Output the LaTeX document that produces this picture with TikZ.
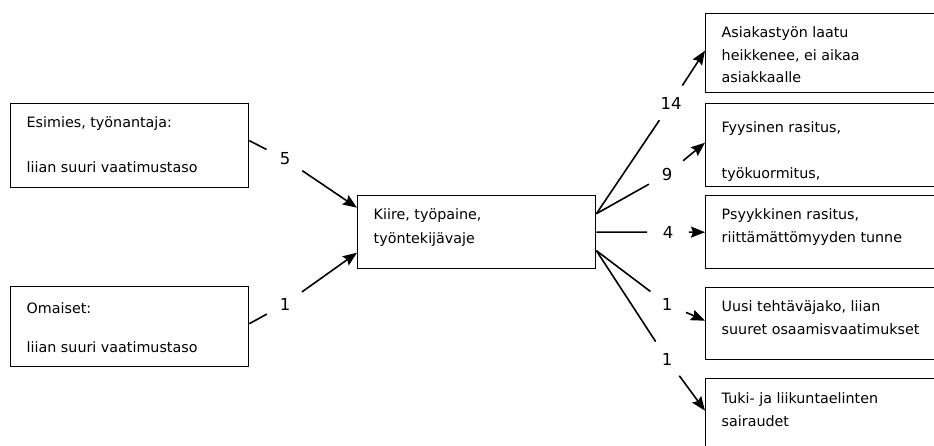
\documentclass[tikz,border=0pt]{standalone}
\usepackage{fontspec}
\setmainfont{DejaVu Sans}
\usetikzlibrary{arrows.meta}
\newcommand{\sisalto}[4][24pt]{\parbox[t][#3][t]{#2}{\leftskip=16pt\rule{0pt}{#1}#4}}

\begin{document}
\begin{tikzpicture}[x=1pt,y=-1pt,>={Stealth[length=14pt,width=11pt,inset=2pt]},line width=1.6pt,
  laatikko/.style={draw,line width=1.4pt,anchor=north west,inner sep=0pt,font=\fontsize{14.3}{22.5}\selectfont},
  luku/.style={circle,minimum size=40pt,inner sep=0pt,font=\fontsize{16.5}{16.5}\selectfont}]
\useasboundingbox (0,0) rectangle (934,446);
\clip (0,0) rectangle (934,446);
\node[laatikko] (esimies) at (10,103) {\sisalto{238pt}{84pt}{Esimies, työnantaja:\\[22.5pt]liian suuri vaatimustaso}};
\node[laatikko] (omaiset) at (10,286) {\sisalto[27pt]{238pt}{80pt}{Omaiset:\\[16.5pt]liian suuri vaatimustaso}};
\node[laatikko] (kiire) at (357,195) {\sisalto{238pt}{73pt}{Kiire, työpaine,\\[1.5pt]työntekijävaje}};
\node[laatikko] (laatu) at (705,13) {\sisalto{260pt}{79pt}{Asiakastyön laatu\\heikkenee, ei aikaa\\asiakkaalle}};
\node[laatikko] (fyys) at (705,103) {\sisalto[29pt]{260pt}{83pt}{Fyysinen rasitus,\\[23.5pt]työkuormitus,}};
\node[laatikko] (psyyk) at (705,195) {\sisalto{260pt}{73pt}{Psyykkinen rasitus,\\riittämättömyyden tunne}};
\node[laatikko] (uusi) at (705,287) {\sisalto{260pt}{72pt}{Uusi tehtäväjako, liian\\suuret osaamisvaatimukset}};
\node[laatikko] (tuki) at (705,378) {\sisalto[25pt]{260pt}{80pt}{Tuki- ja liikuntaelinten\\sairaudet}};

\node[luku] (l5) at (285,159) {5};
\node[luku] (l1a) at (285,304) {1};
\node[luku] (l14) at (671,103) {14};
\node[luku] (l9) at (667,174) {9};
\node[luku] (l4) at (668,232) {4};
\node[luku] (l1b) at (667,304) {1};
\node[luku] (l1c) at (667,359) {1};

\draw ([yshift=5pt]esimies.east) -- (l5);
\draw[->] (l5) -- ([yshift=24.5pt]kiire.west);
\draw ([yshift=3pt]omaiset.east) -- (l1a);
\draw[->] (l1a) -- ([yshift=-20.5pt]kiire.west);

\draw ([yshift=18.5pt]kiire.east) -- (l14);
\draw[->] (l14) -- ([yshift=2.5pt]laatu.west);
\draw ([yshift=18.5pt]kiire.east) -- (l9);
\draw[->] (l9) -- ([yshift=2.5pt]fyys.west);
\draw (kiire.east) -- (l4);
\draw[->] (l4) -- (psyyk.west);
\draw ([yshift=-18.5pt]kiire.east) -- (l1b);
\draw[->] (l1b) -- ([yshift=3pt]uusi.west);
\draw ([yshift=-18.5pt]kiire.east) -- (l1c);
\draw[->] (l1c) -- ([yshift=8pt]tuki.west);
\end{tikzpicture}
\end{document}
